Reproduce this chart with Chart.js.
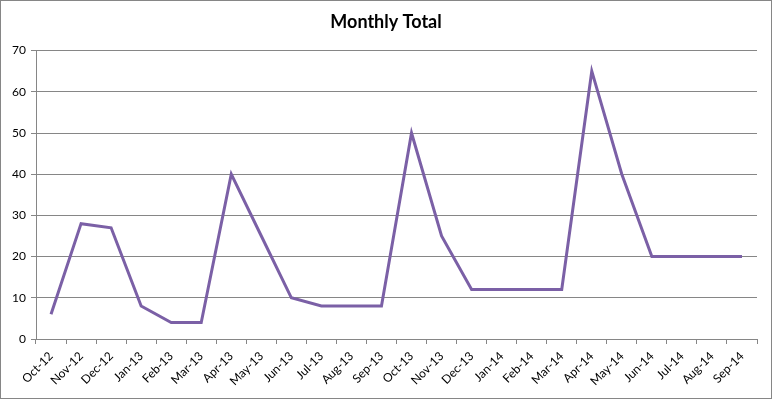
<!DOCTYPE html>
<html>
<head>
<meta charset="utf-8">
<script src="https://cdn.jsdelivr.net/npm/chart.js@4"></script>
<style>
html,body{margin:0;padding:0;background:#fff;}
#wrap{width:772px;height:399px;position:relative;}
</style>
</head>
<body>
<div id="wrap"><canvas id="c" width="772" height="399"></canvas></div>
<script>
const categories = ["Oct-12","Nov-12","Dec-12","Jan-13","Feb-13","Mar-13","Apr-13","May-13","Jun-13","Jul-13","Aug-13","Sep-13","Oct-13","Nov-13","Dec-13","Jan-14","Feb-14","Mar-14","Apr-14","May-14","Jun-14","Jul-14","Aug-14","Sep-14"];
const monthlyTotal = [6,28,27,8,4,4,40,25,10,8,8,8,50,25,12,12,12,12,65,40,20,20,20,20];
const yTicks = [0,10,20,30,40,50,60,70];
const chartTitle = "Monthly Total";

const borderPlugin = {
  id: 'outerBorder',
  beforeDraw(chart) {
    const ctx = chart.ctx;
    ctx.save();
    ctx.fillStyle = '#fff';
    ctx.fillRect(0, 0, chart.width, chart.height);
    ctx.strokeStyle = '#868686';
    ctx.lineWidth = 1;
    ctx.strokeRect(0.5, 0.5, chart.width - 1, chart.height - 1);
    ctx.restore();
  }
};

new Chart(document.getElementById('c'), {
  type: 'line',
  data: {
    labels: categories,
    datasets: [{
      label: chartTitle,
      data: monthlyTotal,
      borderColor: '#7B60A6',
      borderWidth: 3,
      pointRadius: 0,
      tension: 0,
      fill: false
    }]
  },
  options: {
    responsive: false,
    animation: false,
    layout: { padding: { left: 0, right: 0, top: 0, bottom: 0 } },
    plugins: {
      legend: { display: false },
      tooltip: { enabled: false },
      title: {
        display: true,
        text: chartTitle,
        color: '#000',
        font: { family: 'Lato', size: 18, weight: 'bold' },
        padding: { top: 11, bottom: 18 }
      }
    },
    scales: {
      x: {
        type: 'category',
        offset: true,
        grid: { offset: true, drawOnChartArea: false, drawTicks: true, tickLength: 5, color: '#868686' },
        border: { display: true, color: '#868686', width: 1 },
        ticks: { color: '#000', font: { family: 'Lato', size: 12 }, minRotation: 45, maxRotation: 45, autoSkip: false, padding: 5 },
        afterFit(scale) { scale.height = 60; }
      },
      y: {
        min: 0, max: 70,
        afterBuildTicks(scale) { scale.ticks = yTicks.map(v => ({ value: v })); },
        grid: { color: '#868686', tickLength: 5, drawTicks: true },
        border: { display: true, color: '#868686', width: 1 },
        ticks: { color: '#000', font: { family: 'Lato', size: 12 }, padding: 5 },
        afterFit(scale) { scale.width = 36; }
      },
      yRightSpace: {
        position: 'right',
        display: true,
        min: 0, max: 70,
        grid: { display: false, drawTicks: false },
        border: { display: false },
        ticks: { display: false },
        afterFit(scale) { scale.width = 15; }
      }
    }
  },
  plugins: [borderPlugin]
});
</script>
</body>
</html>
